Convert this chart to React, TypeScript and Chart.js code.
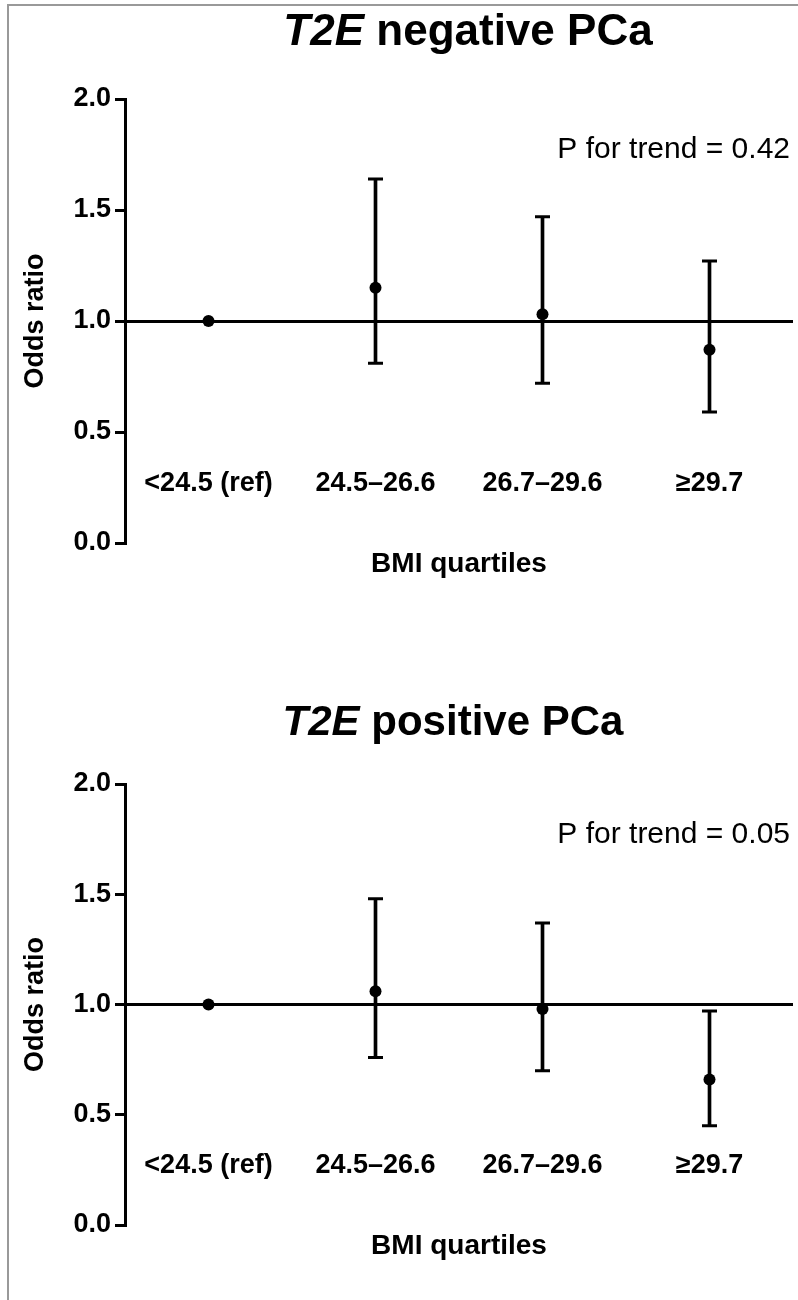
import React, { useEffect, useRef } from "react";
import { Chart, registerables } from "chart.js";

Chart.register(...registerables);

const FONT = "'Liberation Sans', Arial, Helvetica, sans-serif";

const categories = ["<24.5 (ref)", "24.5–26.6", "26.7–29.6", "≥29.7"];
const yTickValues = [0, 0.5, 1.0, 1.5, 2.0];
const yTickLabels = ["0.0", "0.5", "1.0", "1.5", "2.0"];
const categoryLabelLevel = 0.27; // odds-ratio level at which category names sit

// T2E negative PCa
const negOR = [1.0, 1.15, 1.03, 0.87];
const negLower = [null, 0.81, 0.72, 0.59];
const negUpper = [null, 1.64, 1.47, 1.27];
const negTrend = "P for trend = 0.42";

// T2E positive PCa
const posOR = [1.0, 1.06, 0.98, 0.66];
const posLower = [null, 0.76, 0.7, 0.45];
const posUpper = [null, 1.48, 1.37, 0.97];
const posTrend = "P for trend = 0.05";

type PanelProps = {
  italicPart: string;
  restPart: string;
  trend: string;
  or: (number | null)[];
  lower: (number | null)[];
  upper: (number | null)[];
  titleX: number;
  titleY: number;
  titleSize: number;
  padBottom: number;
};

const W = 798;
const H = 610;

function Panel(props: PanelProps) {
  const ref = useRef<HTMLCanvasElement | null>(null);
  useEffect(() => {
    if (!ref.current) return;
    const textPlugin = {
      id: "panelText",
      afterDraw(chart: any) {
        const ctx = chart.ctx;
        const xs = chart.scales.x;
        const ys = chart.scales.y;
        ctx.save();
        ctx.fillStyle = "#000";
        ctx.textBaseline = "middle";
        // title with italic gene symbol
        const fIt = `italic bold ${props.titleSize}px ${FONT}`;
        const fB = `bold ${props.titleSize}px ${FONT}`;
        ctx.font = fIt;
        const w1 = ctx.measureText(props.italicPart).width;
        ctx.font = fB;
        const w2 = ctx.measureText(props.restPart).width;
        const x0 = props.titleX - (w1 + w2) / 2;
        ctx.textAlign = "left";
        ctx.font = fIt;
        ctx.fillText(props.italicPart, x0, props.titleY);
        ctx.font = fB;
        ctx.fillText(props.restPart, x0 + w1, props.titleY);
        // p for trend
        ctx.font = `30px ${FONT}`;
        ctx.textAlign = "right";
        ctx.fillText(props.trend, 790, 150);
        // category names inside the plot
        ctx.font = `bold 27px ${FONT}`;
        ctx.textAlign = "center";
        const yl = ys.getPixelForValue(categoryLabelLevel);
        categories.forEach((c, i) => {
          ctx.fillText(c, xs.getPixelForValue(i), yl);
        });
        ctx.restore();
      },
    };
    const chart = new Chart(ref.current, {
      type: "bar",
      data: {
        labels: categories,
        datasets: [
          {
            type: "bar",
            data: props.lower.map((l, i) =>
              l == null ? null : [l, props.upper[i] as number]
            ) as any,
            backgroundColor: "#000",
            borderWidth: 0,
            barThickness: 3,
            order: 3,
          },
          {
            type: "line",
            data: props.upper as any,
            showLine: false,
            pointStyle: "line",
            pointRadius: 7.5,
            borderWidth: 3,
            borderColor: "#000",
            order: 2,
          } as any,
          {
            type: "line",
            data: props.lower as any,
            showLine: false,
            pointStyle: "line",
            pointRadius: 7.5,
            borderWidth: 3,
            borderColor: "#000",
            order: 2,
          } as any,
          {
            type: "line",
            data: props.or as any,
            showLine: false,
            pointStyle: "circle",
            pointRadius: 6,
            pointBorderWidth: 0,
            pointBackgroundColor: "#000",
            borderColor: "#000",
            order: 1,
          } as any,
        ],
      },
      options: {
        responsive: false,
        animation: false,
        devicePixelRatio: 1,
        layout: {
          autoPadding: false,
          padding: { top: 99, right: 5, left: 0, bottom: props.padBottom },
        },
        plugins: {
          legend: { display: false },
          title: { display: false },
          tooltip: { enabled: false },
        },
        scales: {
          x: {
            grid: { display: false, drawTicks: false },
            border: { display: false },
            ticks: { display: false },
            title: {
              display: true,
              text: "BMI quartiles",
              color: "#000",
              font: { family: FONT, size: 28, weight: "bold" },
              padding: { top: 0, bottom: 22 },
            },
            afterFit(scale: any) {
              scale.height = 60;
            },
          },
          y: {
            min: 0,
            max: 2,
            afterBuildTicks(scale: any) {
              scale.ticks = yTickValues.map((v) => ({ value: v }));
            },
            ticks: {
              color: "#000",
              font: { family: FONT, size: 27, weight: "bold" },
              padding: 4,
              callback: (v: any) => {
                const i = yTickValues.indexOf(Number(v));
                return i >= 0 ? yTickLabels[i] : "";
              },
            },
            grid: {
              drawOnChartArea: true,
              color: (c: any) =>
                c.tick && c.tick.value === 1 ? "#000" : "rgba(0,0,0,0)",
              lineWidth: 3,
              tickColor: "#000",
              tickWidth: 3,
              tickLength: 10,
            },
            border: { display: true, color: "#000", width: 3 },
            title: {
              display: true,
              text: "Odds ratio",
              color: "#000",
              font: { family: FONT, size: 27, weight: "bold" },
              padding: { top: 19, bottom: 0 },
            },
            afterFit(scale: any) {
              scale.width = 125;
            },
          },
        },
      },
      plugins: [textPlugin],
    });
    return () => chart.destroy();
  }, []);
  return <canvas ref={ref} width={W} height={H} style={{ display: "block", width: W, height: H }} />;
}

export default function App() {
  return (
    <div
      style={{
        position: "absolute",
        left: 0,
        top: 0,
        width: 798,
        height: 1300,
        overflow: "hidden",
        background: "#fff",
      }}
    >
      <div
        style={{
          position: "absolute",
          left: 7,
          top: 4,
          width: 791,
          height: 1296,
          borderTop: "2px solid #999",
          borderLeft: "2px solid #999",
          boxSizing: "border-box",
        }}
      />
      <div style={{ position: "absolute", left: 0, top: 0 }}>
        <Panel
          italicPart="T2E"
          restPart=" negative PCa"
          trend={negTrend}
          or={negOR}
          lower={negLower}
          upper={negUpper}
          titleX={468}
          titleY={33}
          titleSize={44}
          padBottom={7}
        />
      </div>
      <div style={{ position: "absolute", left: 0, top: 685 }}>
        <Panel
          italicPart="T2E"
          restPart=" positive PCa"
          trend={posTrend}
          or={posOR}
          lower={posLower}
          upper={posUpper}
          titleX={453}
          titleY={38}
          titleSize={42}
          padBottom={10}
        />
      </div>
    </div>
  );
}
